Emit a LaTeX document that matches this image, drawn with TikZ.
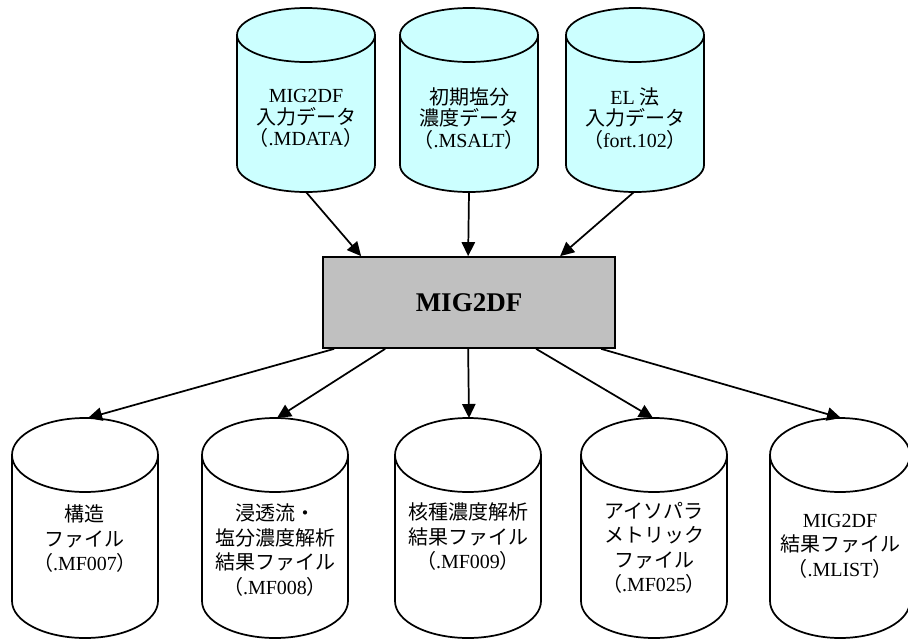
\documentclass[tikz,border=0pt]{standalone}
\usepackage{fontspec}
\setmainfont{Liberation Serif}
\newfontfamily\jpg{Noto Sans CJK JP}
\usetikzlibrary{arrows.meta,calc}

\definecolor{dbcyan}{HTML}{CCFFFF}
\definecolor{boxgray}{HTML}{C0C0C0}

% narrow full-width brackets
\newcommand\lp{\makebox[0.72em][r]{\jpg （}}
\newcommand\rp{\makebox[0.72em][l]{\jpg ）}}

% \dbcyl{cx}{top centre y}{bottom centre y}{half width}{y radius}{fill}
% (the y axis points down, so angles run the other way round)
\newcommand\dbcyl[6]{%
  \fill[#6] ({#1-#4},#2) -- ({#1-#4},#3)
    arc[start angle=180,end angle=0,x radius=#4,y radius=#5]
    -- ({#1+#4},#2)
    arc[start angle=0,end angle=-180,x radius=#4,y radius=#5] -- cycle;
  \draw[outline] ({#1-#4},#2) -- ({#1-#4},#3)
    arc[start angle=180,end angle=0,x radius=#4,y radius=#5]
    -- ({#1+#4},#2);
  \draw[outline] (#1,#2) ellipse[x radius=#4,y radius=#5];
}

\begin{document}
\begin{tikzpicture}[x=0.75pt,y=-0.75pt,
  outline/.style={line width=1.3pt,line join=round},
  flow/.style={line width=1.3pt,-{Triangle[length=10.5pt,width=10pt]}},
  intext/.style={align=center,inner sep=0pt,font=\fontsize{15pt}{16.1pt}\selectfont},
  outtext/.style={align=center,inner sep=0pt,font=\fontsize{15pt}{18.4pt}\selectfont},
  mainbox/.style={draw,line width=1.3pt,fill=boxgray,minimum width=219pt,
    minimum height=68.25pt,inner sep=0pt,font=\fontsize{20.25pt}{24pt}\selectfont\bfseries}]
\useasboundingbox (0,0) rectangle (908,640);

% input data stores
\dbcyl{306}{35}{165}{69}{27}{dbcyan}
\dbcyl{469}{35}{165}{69}{27}{dbcyan}
\dbcyl{635}{35}{165}{69}{27}{dbcyan}
\node[intext] (in1) at (306,118.5) {MIG2DF\\{\jpg 入力データ}\\\lp.MDATA\rp};
\node[intext] (in2) at (469,118.5) {{\jpg 初期塩分}\\{\jpg 濃度データ}\\\lp.MSALT\rp};
\node[intext] (in3) at (635,118.5) {EL {\jpg 法}\\{\jpg 入力データ}\\\lp fort.102\rp};
\coordinate (in1b) at (306,192);
\coordinate (in2b) at (469,192);
\coordinate (in3b) at (634,192);

% program
\node[mainbox] (prog) at (469,302.5) {MIG2DF};
\coordinate (p-n1) at ($(prog.north west)+(39,0)$);
\coordinate (p-n2) at ($(prog.north west)+(146,0)$);
\coordinate (p-n3) at ($(prog.north west)+(238,0)$);
\coordinate (p-s1) at ($(prog.south west)+(12,0)$);
\coordinate (p-s2) at ($(prog.south west)+(63,0)$);
\coordinate (p-s3) at ($(prog.south west)+(146,0)$);
\coordinate (p-s4) at ($(prog.south west)+(214,0)$);
\coordinate (p-s5) at ($(prog.south west)+(279,0)$);

% output files
\dbcyl{85}{455}{601}{73}{37}{white}
\dbcyl{275}{455}{601}{73}{37}{white}
\dbcyl{468}{455}{601}{73}{37}{white}
\dbcyl{654}{455}{601}{73}{37}{white}
\dbcyl{840}{455}{601}{70}{37}{white}
\node[outtext] (out1) at (85,539) {{\jpg 構造}\\{\jpg ファイル}\\\lp.MF007\rp};
\node[outtext] (out2) at (275,550) {{\jpg 浸透流・}\\{\jpg 塩分濃度解析}\\{\jpg 結果ファイル}\\\lp.MF008\rp};
\node[outtext] (out3) at (468,537) {{\jpg 核種濃度解析}\\{\jpg 結果ファイル}\\\lp.MF009\rp};
\node[outtext] (out4) at (654,548) {{\jpg アイソパラ}\\{\jpg メトリック}\\{\jpg ファイル}\\\lp.MF025\rp};
\node[outtext] (out5) at (840,546) {MIG2DF\\{\jpg 結果ファイル}\\\lp.MLIST\rp};
\coordinate (out1t) at (88,418);
\coordinate (out2t) at (277,418);
\coordinate (out3t) at (469,418);
\coordinate (out4t) at (653,418);
\coordinate (out5t) at (841,418);

% data flow
\draw[flow] (in1b) -- (p-n1);
\draw[flow] (in2b) -- (p-n2);
\draw[flow] (in3b) -- (p-n3);
\draw[flow] (p-s1) -- (out1t);
\draw[flow] (p-s2) -- (out2t);
\draw[flow] (p-s3) -- (out3t);
\draw[flow] (p-s4) -- (out4t);
\draw[flow] (p-s5) -- (out5t);
\end{tikzpicture}
\end{document}
